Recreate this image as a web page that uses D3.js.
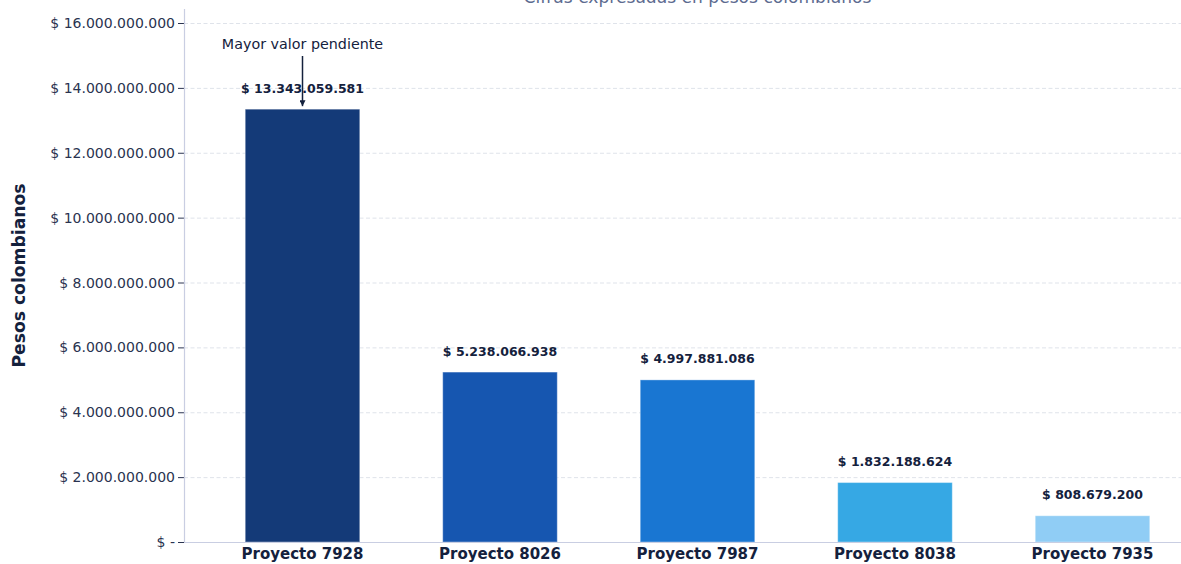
<!DOCTYPE html>
<html>
<head>
<meta charset="utf-8">
<script src="https://cdn.jsdelivr.net/npm/d3@7"></script>
<style>
  html, body { margin: 0; padding: 0; background: #ffffff; }
  svg { display: block; font-family: "DejaVu Sans", sans-serif; }
</style>
</head>
<body>
<svg id="chart" width="1181" height="564"></svg>
<script>
const categories = ["Proyecto 7928", "Proyecto 8026", "Proyecto 7987", "Proyecto 8038", "Proyecto 7935"];
const values = [13343059581, 5238066938, 4997881086, 1832188624, 808679200];
const barColors = ["#143a78", "#1656b0", "#1976d2", "#36a8e4", "#90cdf5"];
const yTicks = [0, 2e9, 4e9, 6e9, 8e9, 10e9, 12e9, 14e9, 16e9];
const titleText = "Cifras expresadas en pesos colombianos";
const yLabelText = "Pesos colombianos";
const annotationText = "Mayor valor pendiente";

const svg = d3.select("#chart");
const W = 1181, H = 564;

const fmt = v => v === 0 ? "$ -" : "$ " + d3.format(",")(v).replace(/,/g, ".");

const x = d3.scaleLinear().domain([-0.6, categories.length - 0.4]).range([184, 1211]);
const y = d3.scaleLinear().domain([0, 16e9 * 533 / 519]).range([542, 9]);
const barW = x(0.58) - x(0);
const x0 = x.range()[0];

// grid
svg.append("g").selectAll("line").data(yTicks.filter(t => t > 0)).join("line")
  .attr("x1", x0).attr("x2", W)
  .attr("y1", d => y(d) + 0.5).attr("y2", d => y(d) + 0.5)
  .attr("stroke", "#dfe3ea").attr("stroke-width", 1).attr("stroke-dasharray", "4,2.5");

// bars
svg.append("g").selectAll("rect").data(values).join("rect")
  .attr("x", (d, i) => x(i) - barW / 2)
  .attr("y", d => y(d))
  .attr("width", barW)
  .attr("height", d => y(0) - y(d))
  .attr("fill", (d, i) => barColors[i])
  .attr("stroke", "#ffffff").attr("stroke-opacity", 0.35).attr("stroke-width", 1);

// y axis: tick marks via d3.axisLeft, labels as plain text
const yAxis = d3.axisLeft(y).tickValues(yTicks).tickFormat("").tickSize(6);
const gy = svg.append("g").attr("transform", `translate(${x0},0)`).call(yAxis);
gy.select(".domain").remove();
gy.selectAll(".tick line").attr("stroke", "#2a3350");
svg.append("g").selectAll("text").data(yTicks).join("text")
  .attr("x", x0 - 9)
  .attr("y", d => y(d))
  .attr("dy", "0.36em")
  .attr("text-anchor", "end")
  .attr("font-family", "DejaVu Sans, sans-serif")
  .attr("font-size", "14px")
  .attr("fill", "#2a3350")
  .text(d => fmt(d));

// spines
svg.append("line").attr("x1", x0 + 0.5).attr("x2", x0 + 0.5)
  .attr("y1", y.range()[1]).attr("y2", y(0)).attr("stroke", "#c9cee2").attr("stroke-width", 1.2);
svg.append("line").attr("x1", x0).attr("x2", W)
  .attr("y1", y(0) + 0.5).attr("y2", y(0) + 0.5).attr("stroke", "#c9cee2").attr("stroke-width", 1.2);

// x labels
svg.append("g").selectAll("text").data(categories).join("text")
  .attr("x", (d, i) => x(i))
  .attr("y", y(0) + 17)
  .attr("text-anchor", "middle")
  .attr("font-family", "DejaVu Sans, sans-serif")
  .attr("font-size", "15px").attr("font-weight", "bold").attr("fill", "#14213d")
  .text(d => d);

// value labels
svg.append("g").selectAll("text").data(values).join("text")
  .attr("x", (d, i) => x(i))
  .attr("y", d => y(d) - 16.5)
  .attr("text-anchor", "middle")
  .attr("font-size", "12.5px").attr("font-weight", "bold").attr("fill", "#14213d")
  .text(d => fmt(d));

// title (partly cut off at top, as in the reference)
svg.append("text").attr("x", (x.range()[0] + x.range()[1]) / 2).attr("y", 3)
  .attr("text-anchor", "middle").attr("font-size", "17.1px").attr("fill", "#5d6b90")
  .text(titleText);

// y label
svg.append("text").attr("transform", `translate(25,${(y.range()[0] + y.range()[1]) / 2}) rotate(-90)`)
  .attr("text-anchor", "middle").attr("font-size", "17.2px").attr("font-weight", "bold").attr("fill", "#14213d")
  .text(yLabelText);

// annotation
const iMax = values.indexOf(d3.max(values));
svg.append("defs").append("marker").attr("id", "arr").attr("viewBox", "0 0 10 10")
  .attr("refX", 10).attr("refY", 5).attr("markerWidth", 6).attr("markerHeight", 6)
  .attr("markerUnits", "userSpaceOnUse").attr("orient", "auto")
  .append("path").attr("d", "M0,0 L10,5 L0,10 z").attr("fill", "#14213d");
svg.append("text").attr("x", x(iMax)).attr("y", 49).attr("text-anchor", "middle")
  .attr("font-size", "14.3px").attr("fill", "#14213d").text(annotationText);
svg.append("line").attr("x1", x(iMax)).attr("x2", x(iMax))
  .attr("y1", 56).attr("y2", y(values[iMax]) - 3)
  .attr("stroke", "#14213d").attr("stroke-width", 1.5).attr("marker-end", "url(#arr)");
</script>
</body>
</html>
